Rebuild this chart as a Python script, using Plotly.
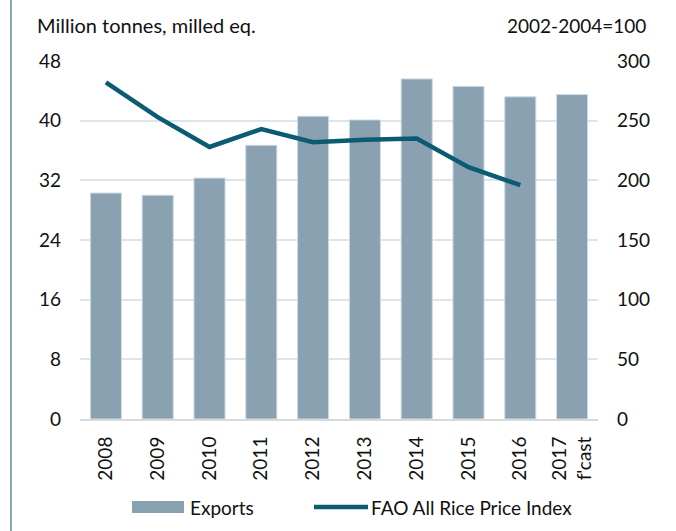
import plotly.graph_objects as go

years = ["2008", "2009", "2010", "2011", "2012", "2013", "2014", "2015", "2016", "2017<br>f'cast"]
exports = [30.3, 30.0, 32.3, 36.7, 40.6, 40.1, 45.6, 44.6, 43.2, 43.5]
price_years = ["2008", "2009", "2010", "2011", "2012", "2013", "2014", "2015", "2016"]
price_index = [282, 253, 228, 243, 232, 234, 235, 211, 196]

left_ticks = [0, 8, 16, 24, 32, 40, 48]
right_ticks = [0, 50, 100, 150, 200, 250, 300]

FONT = "Lato"
BAR_COLOR = "#8aa1b1"
LINE_COLOR = "#0b5b73"

W, H = 676, 531
L, R, T, B = 80, 78, 61, 112
PW, PH = W - L - R, H - T - B


def px(x):
    return (x - L) / PW


def py(y):
    return 1 - (y - T) / PH


fig = go.Figure()
fig.add_trace(go.Bar(x=years, y=exports, name="Exports", marker_color=BAR_COLOR,
                     marker_line=dict(color="#d0dae2", width=1), width=0.6, yaxis="y",
                     showlegend=False))
fig.add_trace(go.Scatter(x=price_years, y=price_index, name="FAO All Rice Price Index",
                         mode="lines", line=dict(color=LINE_COLOR, width=4.5), yaxis="y2",
                         showlegend=False))

fig.update_layout(
    width=W, height=H,
    margin=dict(l=L, r=R, t=T, b=B, autoexpand=False),
    paper_bgcolor="white", plot_bgcolor="white",
    font=dict(family=FONT, size=19, color="#111"),
    showlegend=False,
    xaxis=dict(tickangle=-90, showgrid=False, showline=True, linecolor="#d9d9d9",
               linewidth=2, ticks="", automargin=False, ticklabelstandoff=8),
    yaxis=dict(range=[0, 48], tickvals=left_ticks, gridcolor="#dfe4ea", gridwidth=2,
               zeroline=False, showline=False, ticks="", automargin=False,
               ticklabelstandoff=18),
    yaxis2=dict(range=[0, 300], tickvals=right_ticks, overlaying="y", side="right",
                showgrid=False, zeroline=False, showline=False, ticks="", automargin=False,
                ticklabelstandoff=18),
)

fig.add_annotation(text="Million tonnes, milled eq.", xref="paper", yref="paper",
                   x=px(35), y=py(25), xanchor="left", yanchor="middle",
                   showarrow=False, font=dict(size=20))
fig.add_annotation(text="2002-2004=100", xref="paper", yref="paper",
                   x=px(648), y=py(25), xanchor="right", yanchor="middle",
                   showarrow=False, font=dict(size=19))

# left frame line
fig.add_shape(type="line", xref="paper", yref="paper",
              x0=px(11), x1=px(11), y0=py(H), y1=py(0),
              line=dict(color="#5f8d9c", width=1.5))

# legend (drawn manually to match wide swatches)
fig.add_shape(type="rect", xref="paper", yref="paper",
              x0=px(132), x1=px(184), y0=py(513), y1=py(501),
              fillcolor=BAR_COLOR, line=dict(width=0))
fig.add_annotation(text="Exports", xref="paper", yref="paper",
                   x=px(188), y=py(507), xanchor="left", yanchor="middle",
                   showarrow=False, font=dict(size=19))
fig.add_shape(type="line", xref="paper", yref="paper",
              x0=px(314), x1=px(368), y0=py(507), y1=py(507),
              line=dict(color=LINE_COLOR, width=4.5))
fig.add_annotation(text="FAO All Rice Price Index", xref="paper", yref="paper",
                   x=px(369), y=py(507), xanchor="left", yanchor="middle",
                   showarrow=False, font=dict(size=19))

fig.write_html("out.html", config={"displayModeBar": False},
               post_script="document.body.style.margin='0';document.body.style.overflow='hidden';")
